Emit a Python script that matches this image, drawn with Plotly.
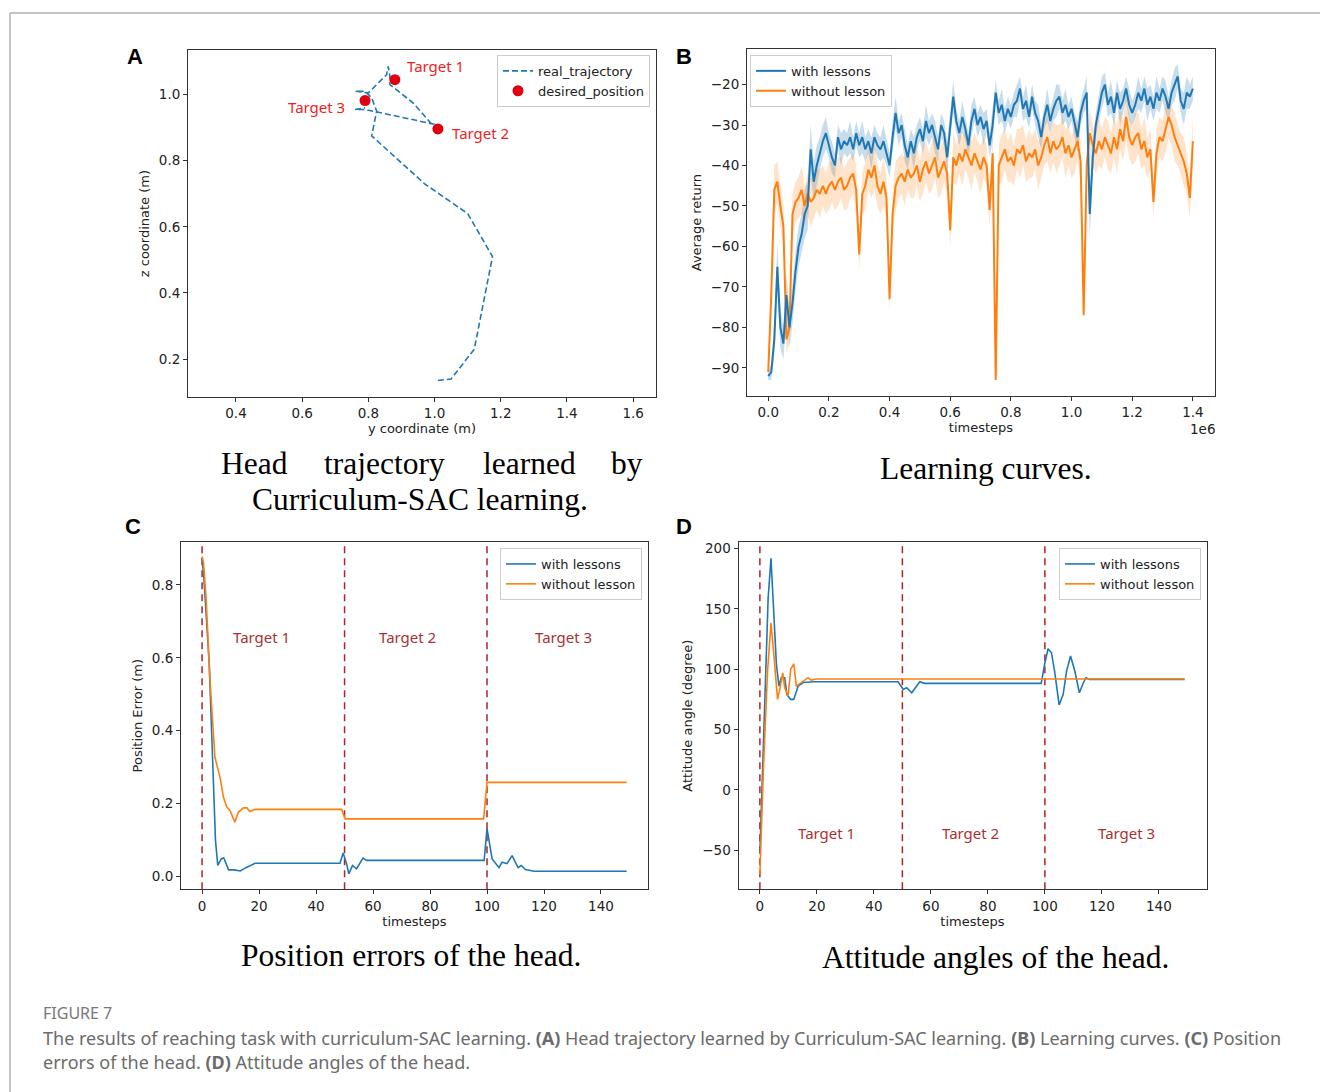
import plotly.graph_objects as go

W, H = 1320, 1092

# ---------------- Panel A data ----------------
traj_y = [1.01, 1.05, 1.12, 1.175, 1.10, 0.97, 0.81, 0.825, 0.81, 0.79, 0.76, 0.80,
          0.855, 0.86, 0.865, 0.865, 0.935, 1.005, 1.00, 0.79, 0.76, 0.79]
traj_z = [0.135, 0.14, 0.23, 0.51, 0.64, 0.73, 0.875, 0.95, 0.99, 1.01, 1.01, 1.005,
          1.06, 1.085, 1.055, 1.03, 0.975, 0.895, 0.91, 0.955, 0.955, 0.96]
target_y = [0.88, 1.01, 0.79]
target_z = [1.045, 0.896, 0.982]
target_names = ["Target 1", "Target 2", "Target 3"]
a_xticks = [0.4, 0.6, 0.8, 1.0, 1.2, 1.4, 1.6]
a_yticks = [0.2, 0.4, 0.6, 0.8, 1.0]

# ---------------- Panel B data ----------------
b_steps = [i * 10000 for i in range(141)]
with_lessons = [
    -92, -91, -83, -65, -80, -84, -72, -80, -74, -66,
    -60, -57, -52, -50, -36, -44, -40, -37, -34, -32,
    -35, -38, -40, -33, -36, -34, -35, -33, -36, -32,
    -35, -33, -36, -34, -37, -33, -35, -36, -34, -37,
    -40, -33, -27, -32, -30, -35, -38, -34, -37, -33,
    -31, -34, -29, -32, -30, -33, -36, -30, -32, -38,
    -30, -23, -29, -32, -28, -31, -35, -29, -26, -30,
    -28, -31, -29, -35, -30, -22, -27, -25, -29, -26,
    -28, -25, -24, -21, -26, -24, -28, -23, -27, -29,
    -33, -28, -25, -29, -26, -24, -23, -27, -25, -28,
    -26, -30, -33, -27, -24, -22, -52, -38, -30, -26,
    -22, -20, -25, -23, -27, -22, -26, -24, -21, -25,
    -27, -25, -22, -24, -21, -25, -23, -26, -22, -24,
    -21, -23, -26, -22, -20, -18, -24, -26, -22, -23, -21]
with_std = [
    1, 2, 4, 6, 5, 4, 5, 5, 5, 5,
    5, 5, 6, 6, 6, 5, 5, 4, 4, 4,
    3, 4, 3, 3, 4, 3, 3, 4, 3, 3,
    3, 4, 3, 3, 4, 3, 3, 3, 4, 3,
    3, 4, 4, 3, 3, 4, 3, 3, 4, 3,
    3, 3, 4, 3, 3, 4, 3, 3, 3, 4,
    3, 4, 3, 3, 4, 3, 3, 4, 3, 3,
    3, 4, 3, 3, 4, 3, 3, 4, 3, 3,
    3, 3, 4, 3, 3, 4, 3, 3, 3, 4,
    3, 3, 4, 3, 3, 4, 3, 3, 4, 3,
    3, 3, 4, 3, 3, 4, 6, 4, 3, 3,
    4, 3, 3, 4, 3, 3, 4, 3, 3, 4,
    3, 3, 4, 3, 3, 4, 3, 3, 4, 3,
    3, 4, 3, 3, 4, 3, 3, 4, 4, 3, 3]
without_lesson = [
    -91, -72, -46, -44, -50, -55, -83, -80, -52, -49,
    -48, -46, -50, -47, -49, -48, -46, -47, -45, -47,
    -45, -44, -46, -44, -43, -46, -45, -43, -42, -46,
    -62, -47, -45, -41, -43, -40, -45, -47, -44, -48,
    -73, -52, -45, -43, -42, -44, -41, -43, -42, -40,
    -44, -41, -39, -42, -40, -38, -43, -41, -39, -42,
    -56, -38, -40, -37, -39, -36, -38, -40, -37, -39,
    -41, -38, -40, -51, -37, -93, -40, -38, -36, -39,
    -38, -40, -36, -37, -35, -39, -37, -38, -36, -40,
    -38, -35, -33, -37, -34, -36, -35, -33, -37, -35,
    -38, -36, -34, -39, -77, -40, -32, -35, -37, -34,
    -36, -33, -35, -37, -33, -36, -31, -34, -28, -33,
    -35, -33, -32, -36, -34, -38, -36, -49, -37, -33,
    -34, -31, -28, -30, -33, -35, -37, -39, -42, -48, -34]
without_std = [
    1, 5, 6, 5, 5, 5, 3, 4, 5, 5,
    5, 6, 5, 5, 6, 5, 5, 6, 5, 5,
    6, 5, 5, 6, 5, 5, 6, 5, 5, 6,
    4, 5, 6, 5, 5, 6, 5, 5, 6, 5,
    3, 5, 6, 5, 5, 6, 5, 5, 6, 5,
    5, 6, 5, 5, 6, 5, 5, 6, 5, 5,
    4, 6, 5, 5, 6, 5, 5, 6, 5, 5,
    6, 5, 5, 4, 6, 1, 5, 6, 5, 5,
    6, 5, 5, 6, 5, 5, 6, 5, 5, 6,
    5, 5, 6, 5, 5, 6, 5, 5, 6, 5,
    5, 6, 5, 5, 2, 5, 6, 5, 5, 6,
    5, 5, 6, 5, 5, 6, 5, 5, 6, 5,
    5, 6, 5, 5, 6, 5, 5, 4, 6, 5,
    5, 6, 5, 5, 6, 5, 5, 6, 5, 5, 6]
b_xticks = [0, 200000, 400000, 600000, 800000, 1000000, 1200000, 1400000]
b_xticklabels = ["0.0", "0.2", "0.4", "0.6", "0.8", "1.0", "1.2", "1.4"]
b_yticks = [-90, -80, -70, -60, -50, -40, -30, -20]

# ---------------- Panel C data ----------------
c_with_t = [0, 0.7, 2.5, 3.7, 4.7, 5.5, 6.7, 7.6, 9.3, 11.3, 13.4, 15.4, 18.6, 48.4,
            49.5, 50.7, 51.5, 52.8, 54.2, 56.5, 57.7, 99, 100, 101.8, 104.2, 105.3,
            107, 108.8, 110.9, 112, 113.5, 116.5, 149]
c_with_v = [0.875, 0.81, 0.583, 0.345, 0.099, 0.03, 0.048, 0.051, 0.018, 0.018, 0.015,
            0.024, 0.036, 0.036, 0.064, 0.035, 0.007, 0.03, 0.021, 0.05, 0.044, 0.044,
            0.131, 0.048, 0.024, 0.039, 0.035, 0.057, 0.024, 0.03, 0.019, 0.014, 0.014]
c_without_t = [0, 0.5, 1.4, 2.8, 4.5, 6.3, 7.5, 8.7, 9.8, 11.5, 12.7, 14.5, 15.7, 16.8,
               18.6, 49, 50.2, 98.8, 100, 149]
c_without_v = [0.878, 0.861, 0.765, 0.537, 0.327, 0.272, 0.217, 0.19, 0.181, 0.149,
               0.176, 0.188, 0.188, 0.178, 0.184, 0.184, 0.158, 0.158, 0.258, 0.258]
c_xticks = [0, 20, 40, 60, 80, 100, 120, 140]
c_yticks = [0.0, 0.2, 0.4, 0.6, 0.8]

# ---------------- Panel D data ----------------
d_with_t = [0, 1.7, 2.9, 3.9, 4.7, 5.8, 6.7, 7.5, 8.7, 9.5, 10.8, 11.9, 13.4, 15.2, 18.7,
            48.5, 50.3, 51.5, 53.3, 56.1, 57.8, 98.7, 99.9, 101.1, 102.3, 103.4, 105,
            106.4, 107.6, 109, 110.5, 112.1, 113.5, 114.4, 115.6, 149]
d_with_v = [-53, 76, 159, 192, 159, 104, 86, 93, 93, 79, 75, 75, 86, 89, 89.6,
            89.6, 83.3, 84.7, 80.5, 89.6, 88.3, 88.3, 104, 117, 113.7, 98.5, 70.4,
            79, 98.5, 111, 98.5, 80.5, 88.8, 93, 91.6, 91.6]
d_without_t = [0, 1.3, 2.7, 3.9, 5, 6.2, 7.1, 8, 8.7, 9.9, 10.8, 11.9, 12.8, 14.5,
               16.9, 18, 19.8, 149]
d_without_v = [-70, 21, 98.5, 138.5, 109.5, 75, 84.7, 97, 84.7, 77.8, 100, 104.5,
               86, 88.8, 93, 91, 91.9, 91.9]
d_xticks = [0, 20, 40, 60, 80, 100, 120, 140]
d_yticks = [-50, 0, 50, 100, 150, 200]

target_boundaries = [0, 50, 100]
region_names = ["Target 1", "Target 2", "Target 3"]
c_label_t = [21, 72, 126.7]
d_label_t = [23.2, 74, 128.8]

BLUE = "#1f77b4"
ORANGE = "#ff7f0e"
BROWN = "#b22222"
BROWN_TXT = "#a83232"


def px(x):
    return x / W


def py(y):
    return 1 - y / H


fig = go.Figure()

# Panel A
fig.add_trace(go.Scatter(x=traj_y, y=traj_z, mode="lines", name="real_trajectory",
                         line=dict(color=BLUE, width=1.6, dash="6px,3px"),
                         xaxis="x", yaxis="y", legend="legend"))
fig.add_trace(go.Scatter(x=target_y, y=target_z, mode="markers", name="desired_position",
                         marker=dict(color="#e00010", size=11),
                         xaxis="x", yaxis="y", legend="legend"))

# Panel B: bands then lines
for mean, std, fillc in [
        (with_lessons, with_std, "rgba(31,119,180,0.25)"),
        (without_lesson, without_std, "rgba(255,127,14,0.22)")]:
    upper = [m + s for m, s in zip(mean, std)]
    lower = [m - s for m, s in zip(mean, std)]
    fig.add_trace(go.Scatter(x=b_steps + b_steps[::-1], y=upper + lower[::-1],
                             fill="toself", fillcolor=fillc, line=dict(width=0),
                             mode="lines", hoverinfo="skip", showlegend=False,
                             xaxis="x2", yaxis="y2"))
fig.add_trace(go.Scatter(x=b_steps, y=without_lesson, mode="lines", name="without lesson",
                         line=dict(color=ORANGE, width=2), showlegend=False,
                         xaxis="x2", yaxis="y2"))
fig.add_trace(go.Scatter(x=b_steps, y=with_lessons, mode="lines", name="with lessons",
                         line=dict(color=BLUE, width=2), showlegend=False,
                         xaxis="x2", yaxis="y2"))
fig.add_trace(go.Scatter(x=[None], y=[None], mode="lines", name="with lessons",
                         line=dict(color=BLUE, width=2), xaxis="x2", yaxis="y2",
                         legend="legend2"))
fig.add_trace(go.Scatter(x=[None], y=[None], mode="lines", name="without lesson",
                         line=dict(color=ORANGE, width=2), xaxis="x2", yaxis="y2",
                         legend="legend2"))

# Panel C
fig.add_trace(go.Scatter(x=c_with_t, y=c_with_v, mode="lines", name="with lessons",
                         line=dict(color=BLUE, width=1.6), xaxis="x3", yaxis="y3",
                         legend="legend3"))
fig.add_trace(go.Scatter(x=c_without_t, y=c_without_v, mode="lines", name="without lesson",
                         line=dict(color=ORANGE, width=1.6), xaxis="x3", yaxis="y3",
                         legend="legend3"))

# Panel D
fig.add_trace(go.Scatter(x=d_with_t, y=d_with_v, mode="lines", name="with lessons",
                         line=dict(color=BLUE, width=1.6), xaxis="x4", yaxis="y4",
                         legend="legend4"))
fig.add_trace(go.Scatter(x=d_without_t, y=d_without_v, mode="lines", name="without lesson",
                         line=dict(color=ORANGE, width=1.6), xaxis="x4", yaxis="y4",
                         legend="legend4"))

TICKF = dict(family="DejaVu Sans", size=13.5, color="#222")
TITLEF = dict(family="DejaVu Sans", size=13, color="#222")


def axis(domain, rng, tickvals, ticktext=None, title=None, anchor=None, standoff=4):
    d = dict(domain=domain, range=rng, tickvals=tickvals, showgrid=False, zeroline=False,
             showline=True, linecolor="#333", linewidth=1, mirror=True,
             ticks="outside", ticklen=4, tickcolor="#333", tickfont=TICKF,
             anchor=anchor)
    if ticktext is not None:
        d["ticktext"] = ticktext
    if title:
        d["title"] = dict(text=title, font=TITLEF, standoff=standoff)
    return d


lay = dict(width=W, height=H, margin=dict(l=0, r=0, t=0, b=0),
           paper_bgcolor="white", plot_bgcolor="white",
           font=dict(family="DejaVu Sans", color="#222"))

lay["xaxis"] = axis([px(188), px(656)], [0.255, 1.669], a_xticks,
                    [f"{v:.1f}" for v in a_xticks], "y coordinate (m)", "y", 0)
lay["yaxis"] = axis([py(396), py(48)], [0.0845, 1.135], a_yticks,
                    [f"{v:.1f}" for v in a_yticks], "z coordinate (m)", "x", 6)
lay["xaxis2"] = axis([px(747), px(1215)], [-70000, 1473000], b_xticks, b_xticklabels,
                     "timesteps", "y2", 0)
lay["yaxis2"] = axis([py(395), py(47)], [-97, -11.2], b_yticks,
                     [f"\u2212{abs(v)}" for v in b_yticks], "Average return", "x2", 6)
lay["xaxis3"] = axis([px(181), px(648)], [-7.4, 156.5], c_xticks,
                     [str(v) for v in c_xticks], "timesteps", "y3", 0)
lay["yaxis3"] = axis([py(889), py(541)], [-0.0356, 0.9178], c_yticks,
                     [f"{v:.1f}" for v in c_yticks], "Position Error (m)", "x3", 6)
lay["xaxis4"] = axis([px(738.5), px(1206.5)], [-7.5, 156.7], d_xticks,
                     [str(v) for v in d_xticks], "timesteps", "y4", 0)
lay["yaxis4"] = axis([py(889), py(541)], [-82.5, 205.5], d_yticks,
                     [f"\u2212{abs(v)}" if v < 0 else str(v) for v in d_yticks],
                     "Attitude angle (degree)", "x4", 6)

LEGF = dict(family="DejaVu Sans", size=13, color="#222")
for key, xr, yt, xa in [("legend", 650, 53, "right"), ("legend2", 750, 53, "left"),
                        ("legend3", 642, 547, "right"), ("legend4", 1201, 547, "right")]:
    lay[key] = dict(x=px(xr), y=py(yt), xanchor=xa, yanchor="top",
                    bgcolor="rgba(255,255,255,0.85)", bordercolor="#ccc",
                    borderwidth=1, font=LEGF, itemwidth=30, tracegroupgap=0)

shapes = []
shapes.append(dict(type="line", xref="paper", yref="paper", x0=px(10), x1=1.0,
                   y0=py(11), y1=py(11), line=dict(color="#b0b0b0", width=1.5)))
shapes.append(dict(type="line", xref="paper", yref="paper", x0=px(10), x1=px(10),
                   y0=0, y1=py(11), line=dict(color="#b0b0b0", width=1.5)))
for xa, ya in [("x3", "y3 domain"), ("x4", "y4 domain")]:
    for b in target_boundaries:
        shapes.append(dict(type="line", xref=xa, yref=ya, x0=b, x1=b, y0=0, y1=1,
                           line=dict(color=BROWN, width=1.5, dash="7px,5px"), layer="below"))
lay["shapes"] = shapes

ann = []
RED = dict(family="Noto Sans", size=15, color="#ee1c25")
ann.append(dict(x=0.912, y=1.0866, xref="x", yref="y", text=target_names[0], showarrow=False,
                xanchor="left", yanchor="middle", font=RED))
ann.append(dict(x=1.0476, y=0.8845, xref="x", yref="y", text=target_names[1], showarrow=False,
                xanchor="left", yanchor="middle", font=RED))
ann.append(dict(x=0.734, y=0.963, xref="x", yref="y", text=target_names[2], showarrow=False,
                xanchor="right", yanchor="middle", font=RED))
for i, nm in enumerate(region_names):
    ann.append(dict(x=c_label_t[i], y=0.657, xref="x3", yref="y3", text=nm, showarrow=False,
                    xanchor="center", yanchor="middle",
                    font=dict(family="Noto Sans", size=15, color=BROWN_TXT)))
    ann.append(dict(x=d_label_t[i], y=-35.6, xref="x4", yref="y4", text=nm, showarrow=False,
                    xanchor="center", yanchor="middle",
                    font=dict(family="Noto Sans", size=15, color=BROWN_TXT)))


def ptext(x, y, text, font, xanchor="center"):
    ann.append(dict(x=px(x), y=py(y), xref="paper", yref="paper", text=text,
                    showarrow=False, xanchor=xanchor, yanchor="middle", font=font))


ptext(1202, 428, "1e6", TICKF)
for L, xx, yy in [("A", 135, 55), ("B", 684, 55), ("C", 133, 525), ("D", 684, 525)]:
    ptext(xx, yy, f"<b>{L}</b>", dict(family="Liberation Sans", size=22, color="black"))

SERIF = dict(family="Liberation Serif", size=31.5, color="black")
for word, xl in [("Head", 219), ("trajectory", 322), ("learned", 481), ("by", 609)]:
    ptext(xl, 462, word, SERIF, "left")
ptext(420, 498, "Curriculum-SAC learning.", SERIF)
ptext(986, 467, "Learning curves.", SERIF)
ptext(411, 955, "Position errors of the head.", SERIF)
ptext(995, 957, "Attitude angles of the head.", SERIF)

CAPF = dict(family="Noto Sans", size=18, color="#6b6b6b")
ptext(41, 1013, "FIGURE 7", dict(family="Noto Sans", size=16, color="#777"), "left")
ptext(41, 1038, "The results of reaching task with curriculum-SAC learning. <b>(A)</b> Head trajectory "
                "learned by Curriculum-SAC learning. <b>(B)</b> Learning curves. <b>(C)</b> Position",
      CAPF, "left")
ptext(41, 1062, "errors of the head. <b>(D)</b> Attitude angles of the head.", CAPF, "left")
lay["annotations"] = ann

fig.update_layout(**lay)
fig.write_html("out.html", config={"displayModeBar": False},
               post_script="document.body.style.margin='0';document.body.style.padding='0';")
